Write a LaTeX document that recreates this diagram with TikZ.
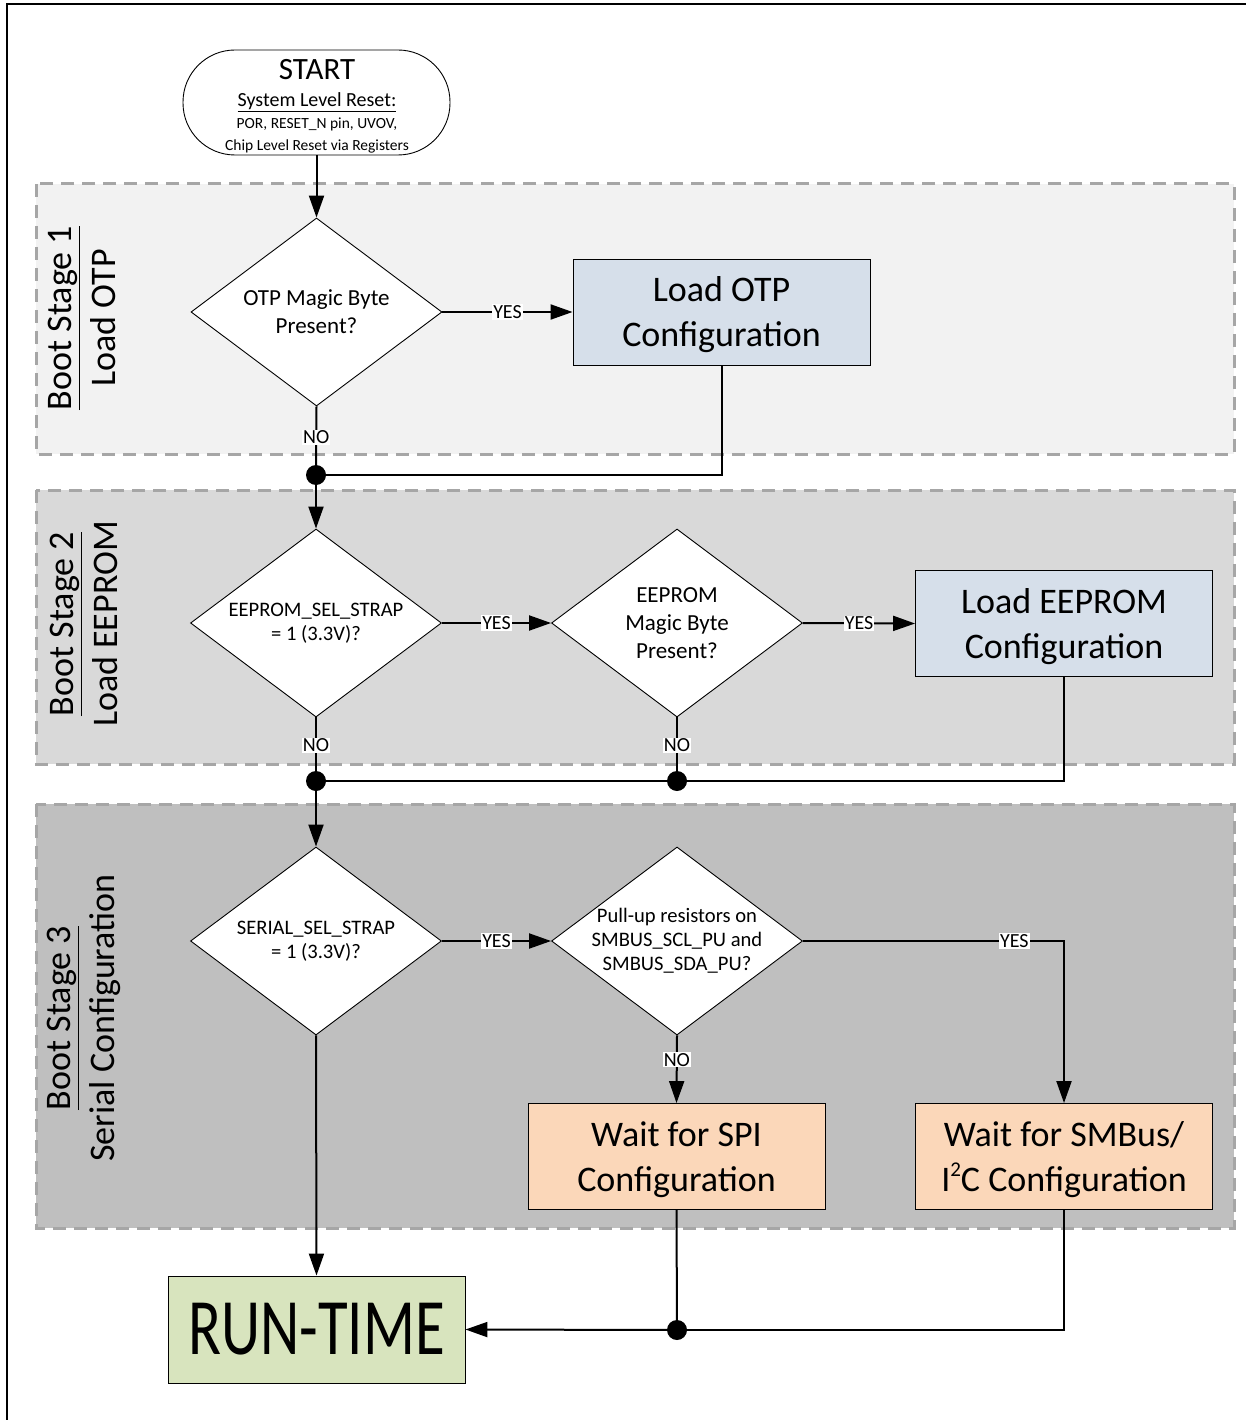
\documentclass[tikz,border=0pt]{standalone}
\usepackage{fontspec}
\setmainfont{Carlito}
\usetikzlibrary{shapes.geometric,arrows.meta}
\definecolor{sgA}{HTML}{F2F2F2}
\definecolor{sgB}{HTML}{D9D9D9}
\definecolor{sgC}{HTML}{BFBFBF}
\definecolor{dashgray}{HTML}{A6A6A6}
\definecolor{bluebox}{RGB}{214,223,234}
\definecolor{peachbox}{RGB}{251,215,185}
\definecolor{greenbox}{RGB}{216,228,190}
\begin{document}
\begin{tikzpicture}[x=1pt,y=-1pt,
  conn/.style={line width=2pt,-{Triangle[length=22pt,width=15pt]}},
  plain/.style={line width=2pt},
  dia/.style={diamond,draw,line width=0.9pt,fill=white,minimum width=251pt,minimum height=188pt,inner sep=0pt},
  dtext/.style={align=center,font=\fontsize{23}{28}\selectfont},
  dtextsm/.style={align=center,font=\fontsize{20.6}{24}\selectfont},
  procbox/.style={draw,line width=0.9pt,minimum width=297pt,minimum height=106pt,inner sep=0pt},
  boxtxt/.style={align=center,yshift=-3pt,font=\fontsize{36}{45}\selectfont},
  stagebox/.style={draw=dashgray,line width=3pt,dash pattern=on 13pt off 8pt},
  stagelab/.style={rotate=90,align=center,font=\fontsize{36}{44}\selectfont},
  lab/.style={fill=white,inner sep=1pt,font=\fontsize{20}{22}\selectfont},
  jdot/.style={circle,fill=black,minimum size=20pt,inner sep=0pt},
]
\useasboundingbox (0,0) rectangle (1246,1420);
% outer frame
\draw[line width=2.5pt] (7,1420) -- (7,4) -- (1246,4);

% stage backgrounds
\draw[stagebox,fill=sgA] (36,184) rectangle (1234,454);
\draw[stagebox,fill=sgB] (36,490) rectangle (1234,764);
\draw[stagebox,fill=sgC] (36,804) rectangle (1234,1228);

\node[stagelab] (lab1) at (82,318) {\underline{Boot Stage 1}\\Load OTP};
\node[stagelab] (lab2) at (84,624) {\underline{Boot Stage 2}\\Load EEPROM};
\node[stagelab] (lab3) at (84,1018) {\underline{Boot Stage 3}\\Serial Configuration};

% start
\node[draw,line width=0.9pt,fill=white,minimum width=267pt,minimum height=105pt,rounded corners=52pt] (start) at (316.5,102.5) {};
\node[anchor=base,font=\fontsize{31}{36}\selectfont] (st1) at (317,80) {START};
\node[anchor=base,font=\fontsize{20}{22}\selectfont] (st2) at (317,107) {\underline{System Level Reset:}};
\node[anchor=base,font=\fontsize{15.5}{18}\selectfont] (st3) at (317,129) {POR, RESET\_N pin, UVOV,};
\node[anchor=base,font=\fontsize{15.5}{18}\selectfont] (st4) at (317,151) {Chip Level Reset via Registers};

% diamonds
\node[dia] (d1) at (316.5,312) {};
\node[dtext] (d1t) at (d1.center) {OTP Magic Byte\\Present?};
\node[dia] (d2) at (316,623) {};
\node[dtextsm] (d2t) at (d2.center) {EEPROM\_SEL\_STRAP\\= 1 (3.3V)?};
\node[dia] (d3) at (677,623) {};
\node[dtext] (d3t) at (d3.center) {EEPROM\\Magic Byte\\Present?};
\node[dia] (d4) at (316,941) {};
\node[dtextsm] (d4t) at (d4.center) {SERIAL\_SEL\_STRAP\\= 1 (3.3V)?};
\node[dia] (d5) at (677,941) {};
\node[dtextsm] (d5t) at (d5.center) {Pull-up resistors on\\SMBUS\_SCL\_PU and\\SMBUS\_SDA\_PU?};

% process boxes
\node[procbox,fill=bluebox] (lotp) at (721.5,312) {};
\node[boxtxt] (lotpt) at (lotp.center) {Load OTP\\Configuration};
\node[procbox,fill=bluebox] (leep) at (1064,623.5) {};
\node[boxtxt] (leept) at (leep.center) {Load EEPROM\\Configuration};
\node[procbox,fill=peachbox] (spi) at (676.5,1156.5) {};
\node[boxtxt] (spit) at (spi.center) {Wait for SPI\\Configuration};
\node[procbox,fill=peachbox] (smb) at (1064,1156.5) {};
\node[boxtxt] (smbt) at (smb.center) {Wait for SMBus/\\I\raisebox{0.42em}{\fontsize{21}{21}\selectfont 2}C Configuration};
\node[procbox,fill=greenbox,minimum height=107pt] (run) at (316.5,1329.5) {\scalebox{0.76}[1]{\fontsize{80}{96}\selectfont RUN-TIME}};

% junctions
\node[jdot] (j1) at (316,475) {};
\node[jdot] (j2) at (316,781) {};
\node[jdot] (j3) at (677,781) {};
\node[jdot] (j4) at (677,1330) {};

% connectors
\draw[conn] (start.south) -- (d1.north);
\draw[conn] (d1.east) -- node[lab]{YES} (lotp.west);
\draw[plain] (d1.south) -- node[lab,pos=0.45]{NO} (j1.center);
\draw[plain] (lotp.south) |- (j1.center);
\draw[conn] (j1.center) -- (d2.north);

\draw[conn] (d2.east) -- node[lab]{YES} (d3.west);
\draw[conn] (d3.east) -- node[lab]{YES} (leep.west);
\draw[plain] (d2.south) -- node[lab,pos=0.44]{NO} (j2.center);
\draw[plain] (d3.south) -- node[lab,pos=0.44]{NO} (j3.center);
\draw[plain] (leep.south) |- (j2.center);
\draw[conn] (j2.center) -- (d4.north);

\draw[conn] (d4.east) -- node[lab]{YES} (d5.west);
\draw[conn] (d5.east) -| node[lab,pos=0.405]{YES} (smb.north);
\draw[conn] (d5.south) -- node[lab,pos=0.36]{NO} (spi.north);
\draw[conn] (d4.south) -- (run.north);

\draw[plain] (spi.south) -- (j4.center);
\draw[plain] (smb.south) |- (j4.center);
\draw[conn] (j4.center) -- (run.east);
\end{tikzpicture}
\end{document}
